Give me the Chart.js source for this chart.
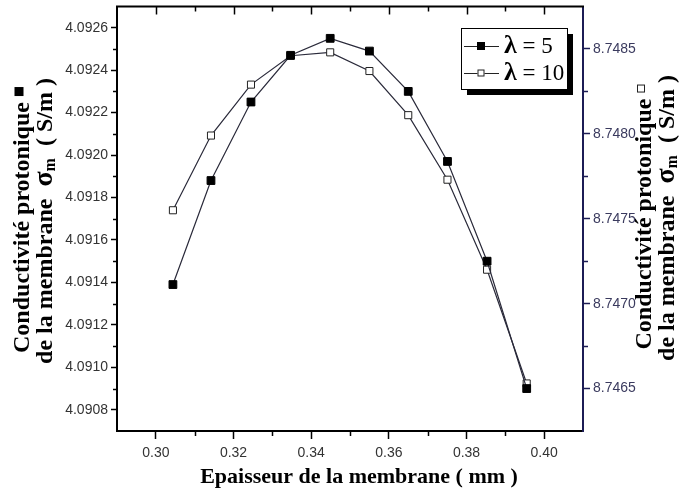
<!DOCTYPE html>
<html>
<head>
<meta charset="utf-8">
<script src="https://cdn.jsdelivr.net/npm/chart.js@4.4.1/dist/chart.umd.min.js"></script>
<style>
  html, body { margin: 0; padding: 0; background: #fff; }
  #wrap { width: 681px; height: 497px; }
</style>
</head>
<body>
<div id="wrap"><canvas id="chart" width="681" height="497"></canvas></div>
<script>
// ==== DATA ====
const thickness = [0.3044, 0.3142, 0.3245, 0.3347, 0.3449, 0.3550, 0.3650, 0.3751, 0.3853, 0.3955];
const lambda5 = [4.09139, 4.09188, 4.09225, 4.09247, 4.09255, 4.09249, 4.09230, 4.09197, 4.09150, 4.09090];
const lambda10 = [8.74755, 8.74799, 8.74829, 8.74846, 8.74848, 8.74837, 8.74811, 8.74773, 8.74720, 8.74653];
const seriesLabels = ["λ = 5", "λ = 10"];

const xTicks = [0.30, 0.32, 0.34, 0.36, 0.38, 0.40];
const leftTicks = [4.0908, 4.0910, 4.0912, 4.0914, 4.0916, 4.0918, 4.0920, 4.0922, 4.0924, 4.0926];
const rightTicks = [8.7465, 8.7470, 8.7475, 8.7480, 8.7485];

const xTitle = "Epaisseur de la membrane ( mm )";
const yTitleLine1 = "Conductivité protonique";
const yTitleLine2 = ["de la membrane  ", "σ", "m", "  ( S/m )"];

const SERIF = "'Liberation Serif', 'Times New Roman', serif";
const SANS = "'Liberation Sans', Arial, sans-serif";
const NAVY = "#1c1c55";

function toPoints(xs, ys) {
  return xs.map((x, i) => ({ x: x, y: ys[i] }));
}

function midpoints(arr) {
  const out = [];
  for (let i = 0; i < arr.length - 1; i++) out.push((arr[i] + arr[i + 1]) / 2);
  return out;
}

// ==== DECORATION PLUGIN (frame, minor ticks, titles, legend) ====
const decoPlugin = {
  id: "deco",
  beforeDraw(chart) {
    const ctx = chart.ctx;
    ctx.save();
    ctx.fillStyle = "#fff";
    ctx.fillRect(0, 0, chart.width, chart.height);
    ctx.restore();
  },
  afterDraw(chart) {
    const ctx = chart.ctx;
    const a = chart.chartArea;
    const sx = chart.scales.x, sy = chart.scales.y, sy1 = chart.scales.y1;
    ctx.save();

    // top frame line
    ctx.strokeStyle = "#000";
    ctx.lineWidth = 2;
    ctx.beginPath();
    ctx.moveTo(a.left - 1, a.top);
    ctx.lineTo(a.right + 1, a.top);
    ctx.stroke();

    ctx.lineWidth = 1.5;
    // top ticks (inward)
    xTicks.forEach(v => {
      const px = Math.round(sx.getPixelForValue(v)) + 0.5;
      ctx.beginPath(); ctx.moveTo(px, a.top); ctx.lineTo(px, a.top + 8); ctx.stroke();
    });
    const xMinor = midpoints(xTicks);
    xMinor.forEach(v => {
      const px = Math.round(sx.getPixelForValue(v)) + 0.5;
      ctx.beginPath(); ctx.moveTo(px, a.top); ctx.lineTo(px, a.top + 5); ctx.stroke();
      ctx.beginPath(); ctx.moveTo(px, a.bottom); ctx.lineTo(px, a.bottom + 5); ctx.stroke();
    });
    // left minor ticks
    const leftMinor = midpoints(leftTicks);
    leftMinor.forEach(v => {
      const py = Math.round(sy.getPixelForValue(v)) + 0.5;
      ctx.beginPath(); ctx.moveTo(a.left, py); ctx.lineTo(a.left - 4, py); ctx.stroke();
    });
    // right minor ticks
    ctx.strokeStyle = NAVY;
    midpoints(rightTicks).forEach(v => {
      const py = Math.round(sy1.getPixelForValue(v)) + 0.5;
      ctx.beginPath(); ctx.moveTo(a.right, py); ctx.lineTo(a.right + 5, py); ctx.stroke();
    });

    // x title
    ctx.fillStyle = "#000";
    ctx.font = "bold 22px " + SERIF;
    ctx.textAlign = "center";
    ctx.textBaseline = "middle";
    ctx.fillText(xTitle, 359, 477);

    // y titles (both read bottom to top)
    drawYTitle(ctx, 23, 220, true);
    drawYTitle(ctx, 645, 217, false);

    // legend
    drawLegend(ctx, chart);
    ctx.restore();
  }
};

function drawMarker(ctx, x, y, filled, size) {
  ctx.save();
  ctx.lineWidth = 1;
  if (filled) {
    ctx.fillStyle = "#000";
    ctx.fillRect(x - size / 2, y - size / 2, size, size);
  } else {
    ctx.fillStyle = "#fff";
    ctx.strokeStyle = "#222";
    ctx.fillRect(x - size / 2, y - size / 2, size, size);
    ctx.strokeRect(x - size / 2 + 0.5, y - size / 2 + 0.5, size - 1, size - 1);
  }
  ctx.restore();
}

function drawYTitle(ctx, cx, cy, filled) {
  ctx.save();
  ctx.fillStyle = "#000";
  ctx.textBaseline = "middle";
  // line 1
  ctx.save();
  ctx.translate(cx, cy);
  ctx.rotate(-Math.PI / 2);
  ctx.font = "bold 24px " + SERIF;
  const w1 = ctx.measureText(yTitleLine1 + " ").width;
  const mk = filled ? 9 : 8;
  const total1 = w1 + mk;
  ctx.textAlign = "left";
  ctx.fillText(yTitleLine1 + " ", -total1 / 2, 0);
  drawMarker(ctx, -total1 / 2 + w1 + mk / 2, -4, filled, mk);
  ctx.restore();

  // line 2 with subscript
  ctx.save();
  ctx.translate(cx + 23, cy + 1);
  ctx.rotate(-Math.PI / 2);
  const fMain = "bold 24px " + SERIF;
  const fSig = "bold 28px " + SERIF;
  const fSub = "bold 16px " + SERIF;
  ctx.font = fMain; const wa = ctx.measureText(yTitleLine2[0]).width;
  ctx.font = fSig; const wb = ctx.measureText(yTitleLine2[1]).width;
  ctx.font = fSub; const wc = ctx.measureText(yTitleLine2[2]).width;
  ctx.font = fMain; const wd = ctx.measureText(yTitleLine2[3]).width;
  let x = -(wa + wb + wc + wd) / 2;
  ctx.textAlign = "left";
  ctx.font = fMain; ctx.fillText(yTitleLine2[0], x, 0); x += wa;
  ctx.font = fSig; ctx.fillText(yTitleLine2[1], x, -1); x += wb;
  ctx.font = fSub; ctx.fillText(yTitleLine2[2], x, 5); x += wc;
  ctx.font = fMain; ctx.fillText(yTitleLine2[3], x, 0);
  ctx.restore();
  ctx.restore();
}

function drawLegend(ctx, chart) {
  const bx = 461, by = 28, bw = 106, bh = 61;
  ctx.save();
  ctx.fillStyle = "#000";
  ctx.fillRect(bx + 6, by + 6, bw, bh);
  ctx.fillStyle = "#fff";
  ctx.fillRect(bx, by, bw, bh);
  ctx.strokeStyle = "#000";
  ctx.lineWidth = 1;
  ctx.strokeRect(bx + 0.5, by + 0.5, bw, bh);

  const rows = [46, 73];
  chart.data.datasets.forEach((ds, i) => {
    const y = rows[i];
    ctx.strokeStyle = "#222";
    ctx.lineWidth = 1.2;
    ctx.beginPath(); ctx.moveTo(464, y + 0.5); ctx.lineTo(499, y + 0.5); ctx.stroke();
    drawMarker(ctx, 481, y, i === 0, i === 0 ? 8 : 7);
    const lab = ds.label;
    ctx.fillStyle = "#000";
    ctx.textBaseline = "middle";
    ctx.textAlign = "left";
    ctx.font = "bold 26px " + SERIF;
    ctx.fillText(lab.charAt(0), 504, y);
    const wl = ctx.measureText(lab.charAt(0)).width;
    ctx.font = "23px " + SERIF;
    ctx.fillText(lab.slice(1), 504 + wl, y + 1);
  });
  ctx.restore();
}

// ==== CHART ====
const ctx = document.getElementById("chart").getContext("2d");
new Chart(ctx, {
  type: "line",
  data: {
    datasets: [
      {
        label: seriesLabels[0],
        data: toPoints(thickness, lambda5),
        yAxisID: "y",
        borderColor: "#2a2a3a",
        borderWidth: 1.2,
        pointStyle: "rect",
        pointRadius: 5.5,
        pointBackgroundColor: "#000",
        pointBorderColor: "#000",
        pointBorderWidth: 1,
        tension: 0,
        fill: false,
      },
      {
        label: seriesLabels[1],
        data: toPoints(thickness, lambda10),
        yAxisID: "y1",
        borderColor: "#2a2a3a",
        borderWidth: 1.2,
        pointStyle: "rect",
        pointRadius: 5,
        pointBackgroundColor: "#fff",
        pointBorderColor: "#222",
        pointBorderWidth: 1,
        tension: 0,
        fill: false,
      },
    ],
  },
  options: {
    responsive: false,
    animation: false,
    layout: { padding: { top: 6, left: 0, right: 0, bottom: 0 } },
    plugins: {
      legend: { display: false },
      tooltip: { enabled: false },
    },
    scales: {
      x: {
        type: "linear",
        min: 0.29,
        max: 0.41,
        afterBuildTicks: s => { s.ticks = xTicks.map(v => ({ value: v })); },
        afterFit: s => { s.height = 66; s.paddingLeft = 0; s.paddingRight = 0; },
        border: { display: true, color: "#000", width: 2 },
        grid: { drawOnChartArea: false, drawTicks: true, tickLength: 8, tickColor: "#000", tickWidth: 1.5 },
        ticks: {
          color: "#333",
          font: { family: SANS, size: 14 },
          padding: 6,
          maxRotation: 0,
          callback: v => v.toFixed(2),
        },
      },
      y: {
        type: "linear",
        position: "left",
        min: 4.0907,
        max: 4.0927,
        afterBuildTicks: s => { s.ticks = leftTicks.map(v => ({ value: v })); },
        afterFit: s => { s.width = 117; s.paddingTop = 0; s.paddingBottom = 0; },
        border: { display: true, color: "#000", width: 2 },
        grid: { drawOnChartArea: false, drawTicks: true, tickLength: 6, tickColor: "#000", tickWidth: 1.5 },
        ticks: {
          color: "#333",
          font: { family: SANS, size: 14 },
          padding: 3,
          callback: v => v.toFixed(4),
        },
      },
      y1: {
        type: "linear",
        position: "right",
        min: 8.74625,
        max: 8.74875,
        afterBuildTicks: s => { s.ticks = rightTicks.map(v => ({ value: v })); },
        afterFit: s => { s.width = 98; s.paddingTop = 0; s.paddingBottom = 0; },
        border: { display: true, color: NAVY, width: 2 },
        grid: { drawOnChartArea: false, drawTicks: true, tickLength: 7, tickColor: NAVY, tickWidth: 1.5 },
        ticks: {
          color: "#3a3a5e",
          font: { family: SANS, size: 14 },
          padding: 3,
          callback: v => v.toFixed(4),
        },
      },
    },
  },
  plugins: [decoPlugin],
});
</script>
</body>
</html>
